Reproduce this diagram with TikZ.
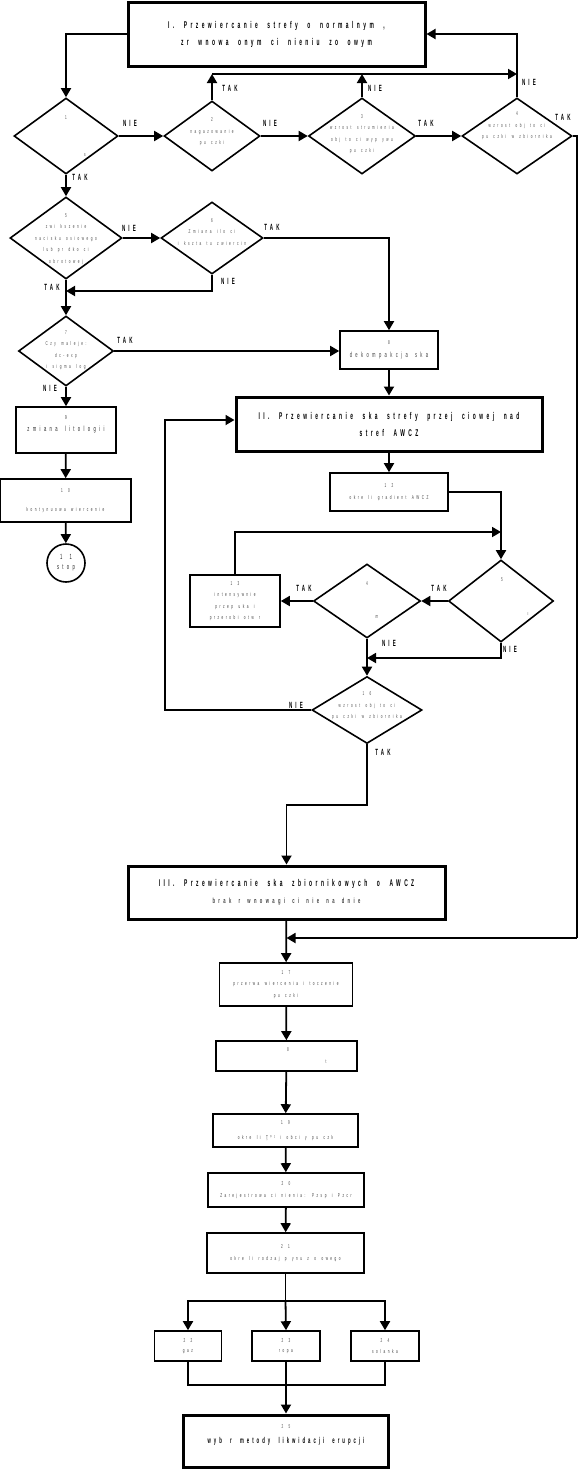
\documentclass[tikz,border=0pt]{standalone}
\usepackage{fontspec}
\setmainfont{Liberation Sans}
\newfontfamily\lsbig{Liberation Sans}[FakeStretch=0.5,LetterSpace=35,WordSpace=2]
\newfontfamily\lssmall{Liberation Sans}[FakeStretch=0.55,LetterSpace=45,WordSpace=1.6]
\usepackage{tikz}
\usetikzlibrary{arrows.meta,calc,positioning,shapes.geometric}
\newcommand{\bigfont}{\lsbig\bfseries\fontsize{9.8}{17}\selectfont}
\newcommand{\lblfont}{\lsbig\bfseries\fontsize{9}{10}\selectfont}
\newcommand{\boldmid}{\lsbig\bfseries\fontsize{8.5}{15}\selectfont}
\newcommand{\midfont}{\lssmall\fontsize{7.5}{15}\selectfont}
\newcommand{\smallfont}{\lssmall\fontsize{5.6}{11.5}\selectfont}
\tikzstyle{element}=[
  draw=black,
  rectangle,
  line width=1.6pt,
  inner sep=0pt,
  align=center,
  font=\smallfont,
  text=black!75,
]
\tikzstyle{stage}=[
  element,
  line width=3pt,
  font=\bigfont,
  text=black,
]
\tikzstyle{decision}=[
  draw=black,
  diamond,
  line width=1.6pt,
  inner sep=0pt,
]
\tikzstyle{dtext}=[
  align=center,
  font=\smallfont,
  text=black!70,
  inner sep=0pt,
]
\tikzstyle{arrow}=[
  draw=black,
  line width=1.8pt,
]
\tikzstyle{arrowlabel}=[
  font=\lblfont,
  inner sep=0pt,
]
\tikzset{
  >={Triangle[length=9pt,width=10pt]},
  x=1pt, y=-1pt,
}
\begin{document}
\begin{tikzpicture}
  \useasboundingbox (0,0) rectangle (579,1470);
  %% stage I and the first row
  \node (stageI) [stage, minimum width=297pt, minimum height=64pt] at (276.5,34)
    {I. Przewiercanie strefy o normalnym ,\\zr wnowa onym ci nieniu zo owym};
  \node (q1) [decision, minimum width=104pt, minimum height=76pt] at (66,136) {};
  \node (q1a) [dtext] at (66,118) {1};
  \node (q1b) [dtext] at (85,155) {s};
  \node (q2) [decision, minimum width=96pt, minimum height=70pt] at (212,136) {};
  \node (q2t) [dtext] at (212,132) {2\\nagazowanie\\pu czki};
  \node (q3) [decision, minimum width=107pt, minimum height=76pt] at (362,136) {};
  \node (q3t) [dtext] at (362,134) {3\\wzrost strumienia\\obj to ci wyp ywu\\pu czki};
  \node (q4) [decision, minimum width=110pt, minimum height=76pt] at (517,136) {};
  \node (q4t) [dtext] at (517,126) {4\\wzrost obj to ci\\pu czki w zbiornika};
  %%
  \coordinate (top) at (0,74);
  \coordinate (rr) at (577,938);
  \draw [->, arrow] (stageI.west) -| (q1.north);
  \draw [->, arrow] (q1.east) -- (q2.west);
  \draw [->, arrow] (q2.east) -- (q3.west);
  \draw [->, arrow] (q3.east) -- (q4.west);
  \draw [->, arrow] (q2.north) -- (q2.north |- top);
  \draw [->, arrow] (q3.north) -- (q3.north |- top);
  \draw [->, arrow] (q2.north |- top) -- (q4.north |- top);
  \draw [->, arrow] (q4.north) |- (stageI.east);
  \draw [arrow] (q4.east) -| (rr);
  \node (l1) [arrowlabel] at (130,123) {NIE};
  \node (l2) [arrowlabel] at (270,123) {NIE};
  \node (l3) [arrowlabel] at (426,123) {TAK};
  \node (l4) [arrowlabel] at (230,88) {TAK};
  \node (l5) [arrowlabel] at (375,88) {NIE};
  \node (l6) [arrowlabel] at (529,82) {NIE};
  \node (l7) [arrowlabel] at (563,117) {TAK};
  \node (l8) [arrowlabel] at (80,177) {TAK};
  %% left column
  \node (q5) [decision, minimum width=112pt, minimum height=82pt] at (66,238) {};
  \node (q5t) [dtext] at (66,239) {5\\zwi kszenie\\nacisku osiowego\\lub pr dko ci\\obrotowej};
  \node (q6) [decision, minimum width=102pt, minimum height=72pt] at (212,238) {};
  \node (q6t) [dtext] at (212,232) {6\\Zmiana ilo ci\\i kszta tu zwiercin};
  \node (q7) [decision, minimum width=95pt, minimum height=70pt] at (66,351) {};
  \node (q7t) [dtext] at (66,350) {7\\Czy maleje:\\dc-exp\\i sigma log};
  \node (decomp) [element, minimum width=98pt, minimum height=38pt, font=\midfont] at (389,350)
    {{\smallfont 8}\\[-2pt]dekompakcja ska};
  \node (litho) [element, minimum width=100pt, minimum height=46pt, font=\midfont, text=black!85] at (66,430)
    {{\smallfont 9}\\[-3pt]zmiana litologii\\[-3pt]\mbox{}};
  \node (cont) [element, minimum width=131pt, minimum height=43pt] at (65.5,500.5)
    {1 0\\[7pt]kontynuowa wiercenie};
  \node (stop) [circle, draw=black, line width=1.6pt, minimum size=38pt, inner sep=0pt,
    align=center, font=\midfont, text=black!85] at (66,563) {1 1\\[-5pt]stop};
  \coordinate (m1) at (66,291);
  \draw [->, arrow] (q1.south) -- (q5.north);
  \draw [->, arrow] (q5.east) -- (q6.west);
  \draw [->, arrow] (q6.east) -| (decomp.north);
  \draw [->, arrow] (q6.south) |- (m1);
  \draw [->, arrow] (q5.south) -- (q7.north);
  \draw [->, arrow] (q7.east) -- (q7.east -| decomp.west);
  \draw [->, arrow] (q7.south) -- (litho.north);
  \draw [->, arrow] (litho) -- (cont);
  \draw [->, arrow] (cont) -- (stop);
  \node (l9) [arrowlabel] at (129,228) {NIE};
  \node (l10) [arrowlabel] at (272,227) {TAK};
  \node (l11) [arrowlabel] at (228,281) {NIE};
  \node (l12) [arrowlabel] at (52,287) {TAK};
  \node (l13) [arrowlabel] at (125,340) {TAK};
  \node (l14) [arrowlabel] at (50,388) {NIE};
  %% stage II
  \node (stageII) [stage, minimum width=306pt, minimum height=54pt] at (389,424)
    {II. Przewiercanie ska strefy przej ciowej nad\\stref AWCZ};
  \node (grad) [element, minimum width=118pt, minimum height=38pt] at (389,492)
    {1 2\\okre li gradient AWCZ};
  \node (q14) [decision, minimum width=107pt, minimum height=74pt] at (367,601) {};
  \node (q14a) [dtext] at (367,584) {4};
  \node (q14b) [dtext] at (377,617) {m};
  \node (q15) [decision, minimum width=105pt, minimum height=82pt] at (501,601) {};
  \node (q15a) [dtext] at (502,580) {5};
  \node (q15b) [dtext] at (528,614) {ı};
  \node (flush) [element, minimum width=90pt, minimum height=52pt] at (235,601)
    {1 3\\intensywnie\\przep uka i\\przerobi otw r};
  \node (q16) [decision, minimum width=110pt, minimum height=67pt] at (367,710) {};
  \node (q16t) [dtext] at (367,706) {1 6\\wzrost obj to ci\\pu czki w zbiornika};
  \coordinate (loop) at (501,532);
  \coordinate (m2) at (367,658);
  \coordinate (back) at (165,420);
  \draw [->, arrow] (decomp) -- (stageII);
  \draw [->, arrow] (stageII) -- (grad);
  \draw [->, arrow] (grad.east) -| (q15.north);
  \draw [->, arrow] (flush.north) |- (loop);
  \draw [->, arrow] (q15.west) -- (q14.east);
  \draw [->, arrow] (q14.west) -- (flush.east);
  \draw [->, arrow] (q14.south) -- (q16.north);
  \draw [->, arrow] (q15.south) |- (m2);
  \draw [->, arrow] (q16.west) -| (back) -- (back -| stageII.west);
  \node (l15) [arrowlabel] at (304,588) {TAK};
  \node (l16) [arrowlabel] at (439,588) {TAK};
  \node (l17) [arrowlabel] at (389,643) {NIE};
  \node (l18) [arrowlabel] at (510,649) {NIE};
  \node (l19) [arrowlabel] at (296,705) {NIE};
  \node (l20) [arrowlabel] at (383,752) {TAK};
  %% stage III and the kick
  \node (stageIII) [stage, minimum width=317pt, minimum height=53pt] at (286.5,892.5)
    {III. Przewiercanie ska zbiornikowych o AWCZ\\{\midfont\color{black!75}brak r wnowagi ci nie na dnie}};
  \node (pause) [element, minimum width=133pt, minimum height=43pt] at (286,984.5)
    {1 7\\przerwa wiercenia i toczenie\\pu czki};
  \node (vol) [element, minimum width=141pt, minimum height=30pt] at (286.5,1056) {};
  \node (vola) [dtext] at (288,1050) {8};
  \node (volb) [dtext] at (326,1062) {t};
  \node (load) [element, minimum width=145pt, minimum height=33pt] at (285.5,1130.5)
    {1 9\\[3pt]okre li Ţº¹ i obci y pu czk};
  \node (press) [element, minimum width=156pt, minimum height=34pt] at (286,1190)
    {2 0\\[1pt]Zarejestrowa ci nienia: Pzsp i Pzcr};
  \node (fluid) [element, minimum width=157pt, minimum height=40pt] at (285.5,1253)
    {2 1\\okre li rodzaj p ynu z o owego};
  \node (gas) [element, minimum width=67pt, minimum height=30pt] at (188,1346) {2 2\\[-1pt]gaz};
  \node (oil) [element, minimum width=68pt, minimum height=30pt] at (286,1346) {2 3\\[-1pt]ropa};
  \node (brine) [element, minimum width=68pt, minimum height=30pt] at (385,1346) {2 4\\[-1pt]solanka};
  \node (method) [stage, minimum width=205pt, minimum height=52pt, font=\boldmid] at (286,1441)
    {{\smallfont\mdseries\color{black!70}2 5}\\wyb r metody likwidacji erupcji\\[-2pt]\mbox{}};
  \draw [->, arrow] (q16.south) -- ++(0,61) -| (stageIII.north);
  \draw [->, arrow] (rr) -- (stageIII.south |- rr);
  \draw [->, arrow] (stageIII) -- (pause);
  \draw [->, arrow] (pause) -- (vol);
  \draw [->, arrow] (vol) -- (load);
  \draw [->, arrow] (load) -- (press);
  \draw [->, arrow] (press) -- (fluid);
  \draw [arrow] (fluid.south) -- ++(0,27) coordinate (fork);
  \draw [->, arrow] (fork) -| (gas.north);
  \draw [->, arrow] (fork) -- (oil.north);
  \draw [->, arrow] (fork) -| (brine.north);
  \draw [arrow] (gas.south) -- ++(0,23) -| (brine.south);
  \draw [->, arrow] (oil.south) -- (method.north);
\end{tikzpicture}
\end{document}
